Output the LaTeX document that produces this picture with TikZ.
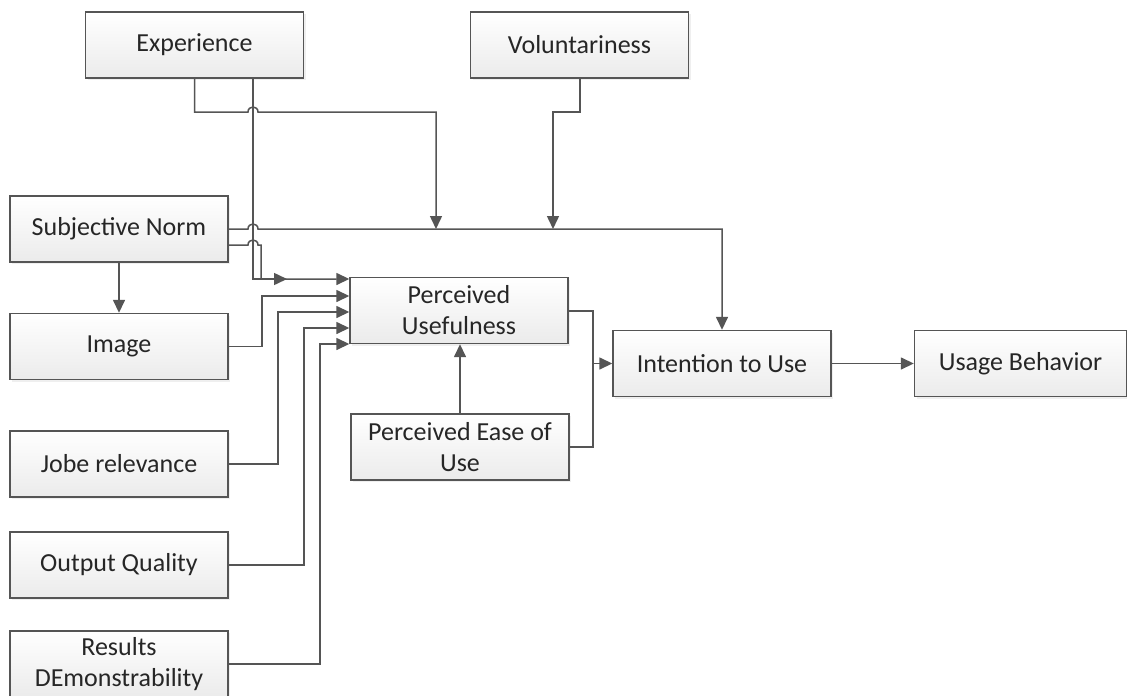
\documentclass[tikz,border=0pt]{standalone}
\usepackage{fontspec}
\setmainfont{Carlito}
\usetikzlibrary{arrows.meta,shadows,calc}
\definecolor{linec}{HTML}{555555}
\definecolor{textc}{HTML}{262626}
\definecolor{boxb}{HTML}{EBEBEB}
\begin{document}
\begin{tikzpicture}[x=1pt,y=-1pt,
 box/.style={draw=linec, line width=1.4pt, top color=white, bottom color=boxb,
   minimum width=218pt, minimum height=66pt, inner sep=2pt, align=center,
   text=textc, font=\fontsize{26}{31}\selectfont,
   drop shadow={shadow xshift=2pt,shadow yshift=-2pt,opacity=0.15,fill=black!40}},
 conn/.style={draw=linec, line width=1.5pt},
 arr/.style={conn, -{Triangle[length=13pt,width=12pt]}}]
\useasboundingbox (0,0) rectangle (1127,696);
\fill[white] (0,0) rectangle (1127,696);

\node[box] (exp) at (194.5,45) {Experience};
\node[box] (vol) at (579.5,45) {Voluntariness};
\node[box] (sn) at (119,229) {Subjective Norm};
\node[box] (img) at (119,346.5) {Image};
\node[box] (job) at (119,464) {Jobe relevance};
\node[box] (oq) at (119,565) {Output Quality};
\node[box] (res) at (119,664) {Results\\DEmonstrability};
\node[box] (pu) at (459,310.5) {Perceived\\Usefulness};
\node[box] (peou) at (460,447) {Perceived Ease of\\Use};
\node[box] (itu) at (722,363.5) {Intention to Use};
\node[box, minimum width=212pt] (ub) at (1020.5,363.5) {Usage Behavior};

\coordinate (m1) at (436,229);
\coordinate (m2) at (553,229);
\coordinate (m3) at (287,279);

% Experience moderators
\draw[arr] (exp.south) -- (exp.south |- 0,112) -- (248,112)
  .. controls (248,105.3) and (258,105.3) .. (258,112) -- (436,112) -- (m1);
\draw[arr] (exp.south -| 253,0) -- (253,279) -- (m3);
% Voluntariness
\draw[arr] (vol.south -| 580,0) -- (580,112) -- (553,112) -- (m2);
% Subjective norm -> intention
\draw[arr] (sn.east) -- (248,229)
  .. controls (248,222.3) and (258,222.3) .. (258,229) -- (722,229) -- (itu.north);
% Subjective norm -> PU
\draw[arr] (sn.east |- 0,245) -- (248,245)
  .. controls (248,238.3) and (258,238.3) .. (258,245) -- (261,245) -- (261,279) -- (pu.west |- 0,279);
% SN -> Image
\draw[arr] (sn.south) -- (img.north);
% inputs to PU
\draw[arr] (img.east) -- (262,346.5) -- (262,296) -- (pu.west |- 0,296);
\draw[arr] (job.east) -- (278,464) -- (278,312) -- (pu.west |- 0,312);
\draw[arr] (oq.east) -- (304,565) -- (304,328) -- (pu.west |- 0,328);
\draw[arr] (res.east) -- (320,664) -- (320,344) -- (pu.west |- 0,344);
% PEoU -> PU
\draw[arr] (peou.north) -- (peou.north |- pu.south);
% PU, PEoU -> Intention
\draw[conn] (peou.east) -| (593,363.5);
\draw[arr] (pu.east |- 0,311) -| (593,363.5) -- (itu.west);
% Intention -> Usage
\draw[arr] (itu.east) -- (ub.west);
\end{tikzpicture}
\end{document}
